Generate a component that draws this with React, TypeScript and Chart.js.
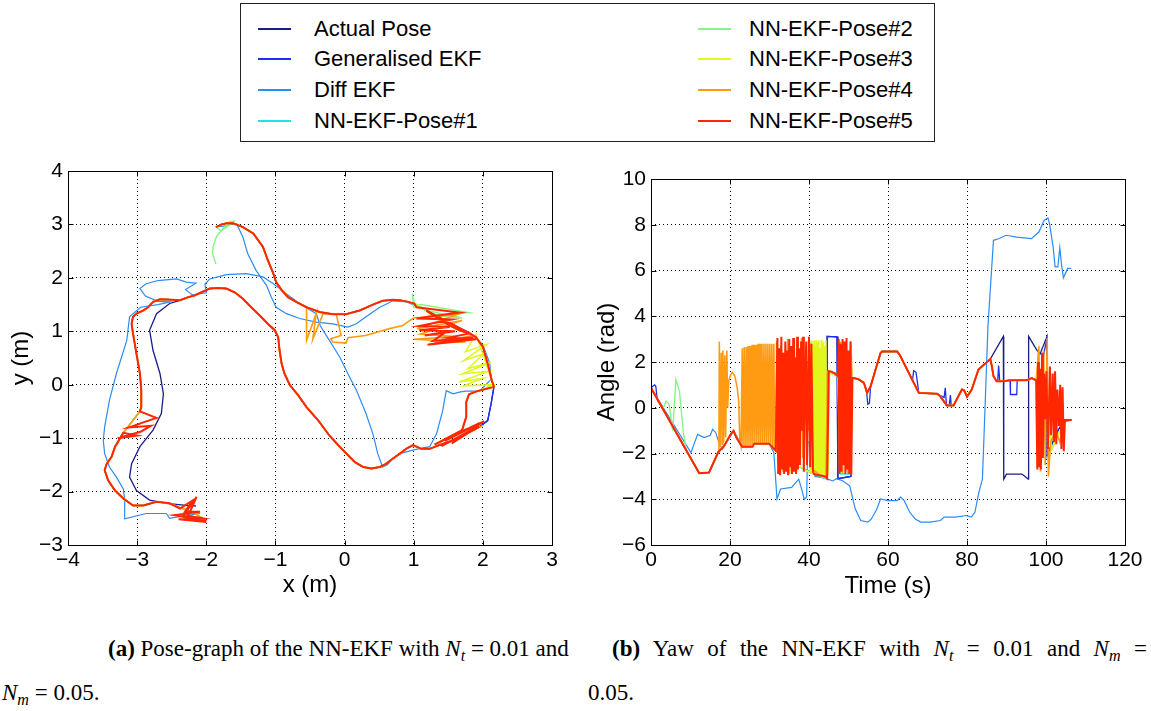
import React, { useEffect, useRef } from "react";
import { Chart, registerables } from "chart.js";

Chart.register(...registerables);

type Pt = [number, number];

// ---------------- series meta ----------------
const SERIES_NAMES = [
  "Actual Pose",
  "Generalised EKF",
  "Diff EKF",
  "NN-EKF-Pose#1",
  "NN-EKF-Pose#2",
  "NN-EKF-Pose#3",
  "NN-EKF-Pose#4",
  "NN-EKF-Pose#5",
];
const SERIES_COLORS = ["#1c1c8c", "#1f2ff0", "#2a8cf5", "#22e6dc", "#86f586", "#e2f51c", "#ff9b12", "#ff2600"];
const SERIES_WIDTHS = [1.3, 1.3, 1.2, 1.4, 1.4, 1.5, 1.6, 2.0];

// ---------------- pose graph (x, y in m) ----------------
const poseXTicks = [-4, -3, -2, -1, 0, 1, 2, 3];
const poseYTicks = [-3, -2, -1, 0, 1, 2, 3, 4];

const poseTopA: Pt[] = [[-1.86, 2.95], [-1.78, 3.0], [-1.71, 3.02], [-1.61, 3.02], [-1.47, 2.95], [-1.32, 2.83], [-1.18, 2.58], [-1.11, 2.33], [-1.03, 2.08], [-0.99, 1.92], [-0.91, 1.77], [-0.82, 1.64], [-0.7, 1.55], [-0.55, 1.45]];
const poseTopB: Pt[] = [[-0.36, 1.36], [-0.17, 1.32], [0.02, 1.32], [0.22, 1.39], [0.41, 1.5], [0.55, 1.57], [0.7, 1.59], [0.8, 1.58], [0.89, 1.56], [1.01, 1.52]];
const poseRight: Pt[] = [[1.18, 1.39], [1.28, 1.3], [1.52, 1.11], [1.66, 1.02], [1.81, 0.96], [1.9, 0.89], [2.0, 0.71], [2.07, 0.39], [2.13, 0.08], [2.16, -0.04]];
const poseRightLowOuter: Pt[] = [[2.12, -0.35], [2.07, -0.67]];
const poseRightLowInner: Pt[] = [[1.92, -0.12], [1.8, -0.18], [1.76, -0.32], [1.76, -0.6], [1.7, -0.85]];
const poseBottom: Pt[] = [[1.95, -0.79], [1.76, -0.92], [1.57, -1.04], [1.37, -1.13], [1.23, -1.2], [1.11, -1.2], [0.99, -1.13], [0.89, -1.2], [0.8, -1.29], [0.7, -1.38], [0.6, -1.48], [0.51, -1.54], [0.39, -1.57], [0.27, -1.54], [0.15, -1.45], [0.05, -1.32], [-0.07, -1.16], [-0.22, -0.95], [-0.38, -0.67], [-0.55, -0.42], [-0.67, -0.2], [-0.79, -0.01], [-0.87, 0.21], [-0.91, 0.39], [-0.94, 0.64], [-0.96, 0.89], [-1.01, 1.02], [-1.11, 1.14], [-1.23, 1.3], [-1.35, 1.45], [-1.47, 1.61], [-1.59, 1.73], [-1.71, 1.8], [-1.83, 1.81], [-1.95, 1.8], [-2.07, 1.73], [-2.17, 1.67], [-2.26, 1.64]];
const poseLeftEst: Pt[] = [[-2.38, 1.58], [-2.5, 1.59], [-2.67, 1.6], [-2.77, 1.55], [-2.84, 1.45], [-2.91, 1.39], [-3.01, 1.33], [-3.06, 1.27], [-3.08, 1.14], [-3.06, 0.96], [-3.01, 0.58], [-2.96, 0.21], [-2.94, -0.1], [-2.94, -0.42], [-2.96, -0.5]];
const poseLeftLowEst: Pt[] = [[-3.2, -0.9], [-3.25, -1.01], [-3.32, -1.16], [-3.37, -1.35], [-3.44, -1.48], [-3.47, -1.6], [-3.42, -1.79], [-3.32, -1.98], [-3.2, -2.13], [-3.06, -2.26], [-2.91, -2.26], [-2.72, -2.19], [-2.53, -2.22]];
const poseEndPlain: Pt[] = [[-2.38, -2.3], [-2.2, -2.38], [-2.0, -2.55]];
const poseEndZig: Pt[] = [[-2.38, -2.32], [-2.19, -2.16], [-2.31, -2.38], [-2.09, -2.38], [-2.46, -2.44], [-2.0, -2.54], [-2.34, -2.47], [-2.14, -2.1], [-2.26, -2.45], [-2.05, -2.5], [-2.4, -2.52], [-2.0, -2.57]];
const poseLeftZig: Pt[] = [[-2.72, -0.62], [-2.9, -0.7], [-3.12, -0.8], [-2.8, -0.77], [-2.95, -0.88], [-3.28, -1.0], [-3.0, -0.95], [-3.2, -0.9]];
const poseRightZig5: Pt[] = [[1.04, 1.45], [1.66, 1.35], [1.04, 1.24], [1.55, 1.22], [1.08, 1.1], [1.52, 1.08], [1.08, 1.02], [1.6, 1.0], [1.16, 0.92], [1.47, 0.99], [1.28, 0.82], [1.86, 0.89], [1.2, 0.75], [1.9, 0.85], [1.5, 0.88], [1.81, 0.96]];
const poseBottomZig5: Pt[] = [[1.3, -1.12], [1.95, -0.72], [1.45, -1.05], [2.02, -0.68], [1.55, -1.1], [1.85, -0.85], [1.4, -1.15], [1.9, -0.8], [1.6, -1.02]];
const poseOrangeShortcut: Pt[] = [[-0.55, 0.83], [-0.41, 1.33], [-0.46, 0.85], [-0.31, 1.33], [-0.12, 1.32], [-0.05, 0.92], [-0.2, 0.86], [-0.17, 0.8], [0.02, 0.78], [0.05, 0.88], [0.3, 0.92], [0.65, 1.05], [0.84, 1.11], [1.0, 1.25]];
const poseOrangeZig: Pt[] = [[1.65, 1.32], [1.05, 1.05], [1.7, 1.2], [1.1, 0.95], [1.6, 0.9], [1.0, 0.85], [1.75, 0.8], [1.3, 0.78], [1.85, 0.92]];
const poseYellowZig: Pt[] = [[1.9, 0.95], [1.75, 0.62], [2.05, 0.75], [1.72, 0.45], [2.02, 0.58], [1.78, 0.3], [2.12, 0.42], [1.7, 0.2], [2.08, 0.25], [1.66, 0.05], [2.0, 0.12], [1.72, -0.02], [2.15, 0.0]];
const poseGreenStart: Pt[] = [[-1.86, 2.26], [-1.91, 2.45], [-1.9, 2.6], [-1.85, 2.78], [-1.76, 2.92], [-1.66, 3.05], [-1.6, 3.06], [-1.78, 2.88]];
const poseGreenZig: Pt[] = [[0.98, 1.7], [1.0, 1.45], [1.1, 1.5], [1.8, 1.35], [1.2, 1.3], [1.7, 1.25]];
const poseLeftActual: Pt[] = [[-2.38, 1.58], [-2.53, 1.52], [-2.72, 1.33], [-2.82, 1.02], [-2.77, 0.64], [-2.67, 0.21], [-2.62, -0.17], [-2.65, -0.54], [-2.77, -0.85], [-2.96, -1.16], [-3.08, -1.48], [-3.11, -1.73], [-3.01, -1.98], [-2.82, -2.16], [-2.58, -2.22], [-2.29, -2.26], [-2.15, -2.27]];
const poseDiffEkf: Pt[] = [[-1.85, 2.96], [-1.75, 2.97], [-1.64, 3.0], [-1.56, 3.01], [-1.47, 2.76], [-1.4, 2.45], [-1.28, 2.14], [-1.13, 1.86], [-1.06, 1.64], [-0.99, 1.45], [-0.84, 1.33], [-0.65, 1.24], [-0.41, 1.17], [-0.17, 1.14], [0.05, 1.08], [0.17, 1.14], [0.31, 1.27], [0.51, 1.45], [0.7, 1.57], [0.9, 1.55], [1.2, 1.38], [1.5, 1.15], [1.8, 0.98], [2.0, 0.75], [2.1, 0.4], [2.12, 0.1], [1.95, -0.12], [1.75, -0.12], [1.66, -0.14], [1.57, -0.17], [1.47, -0.11], [1.42, -0.48], [1.33, -0.92], [1.23, -1.16], [1.0, -1.22], [0.8, -1.29], [0.7, -1.38], [0.62, -1.5], [0.55, -1.54], [0.48, -1.29], [0.41, -0.92], [0.31, -0.54], [0.17, -0.1], [0.07, 0.15], [-0.07, 0.52], [-0.22, 0.83], [-0.35, 1.1], [-0.41, 1.33], [-0.65, 1.52], [-0.84, 1.7], [-1.03, 1.89], [-1.18, 2.02], [-1.42, 2.08], [-1.71, 2.06], [-1.95, 1.98], [-2.02, 1.88], [-2.0, 1.72], [-2.2, 1.68], [-2.3, 1.78], [-2.15, 1.9], [-2.29, 1.92], [-2.43, 1.98], [-2.7, 1.95], [-2.87, 1.89], [-2.96, 1.8], [-2.88, 1.66], [-2.7, 1.56], [-2.52, 1.55], [-2.7, 1.5], [-2.95, 1.45], [-3.11, 1.27], [-3.15, 0.83], [-3.3, 0.21], [-3.4, -0.29], [-3.47, -0.79], [-3.49, -1.04], [-3.47, -1.29], [-3.4, -1.54], [-3.3, -1.73], [-3.2, -1.95], [-3.18, -2.16], [-3.18, -2.51], [-2.87, -2.41], [-2.58, -2.41], [-2.53, -2.5], [-2.3, -2.45], [-2.09, -2.41]];

// ---------------- yaw (t in s, angle in rad) ----------------
const yawXTicks = [0, 20, 40, 60, 80, 100, 120];
const yawYTicks = [-6, -4, -2, 0, 2, 4, 6, 8, 10];

const yawA: Pt[] = [[0, 0.87], [12.2, -2.86], [14.7, -2.83], [17.0, -1.95]];
const yawB: Pt[] = [[18.5, -1.67], [20.2, -1.15], [20.9, -1.01], [21.6, -1.3], [23.1, -1.71], [25.7, -1.71], [26.1, -1.57], [29.9, -1.57], [31.6, -1.88]];
const yawTrueMid: Pt[] = [[33.0, -2.15], [36.0, -2.45], [39.0, -2.7], [41.3, -2.9], [44.5, -3.1], [44.6, 3.12], [47.1, 3.1], [47.3, -3.1], [50.6, -3.0], [50.8, 1.3]];
const yawC: Pt[] = [[51.3, 1.3], [52.5, 1.25], [53.9, 1.09], [54.7, 0.65], [55.6, 0.94], [58.1, 2.39], [58.5, 2.46], [62.3, 2.46], [63.0, 2.3], [67.8, 0.65], [72.4, 0.61], [73.0, 0.55], [74.9, 0.1], [76.6, 0.1], [78.7, 0.8], [79.3, 0.75], [80.0, 0.48], [81.2, 0.8], [82.9, 1.67], [85.9, 2.13]];
const yawD: Pt[] = [[86.3, 1.81], [86.7, 1.38], [87.5, 1.16], [89.2, 1.16], [90.9, 1.2], [95.1, 1.2], [96.4, 1.3], [97.5, 1.2]];
const yawEndPlain: Pt[] = [[98.5, 1.2], [100.0, 0.5], [101.5, -1.8], [103.0, -1.2], [104.8, -0.54], [106.5, -0.54]];
const yawActualEnd: Pt[] = [[89.2, 3.12], [89.3, -3.12], [90.0, -2.9], [93.9, -2.9], [95.5, -3.12], [95.6, 3.12], [97.6, 2.54], [98.5, 2.35], [100.2, 3.09], [100.3, -2.1], [101.5, -1.6], [103.0, -1.0], [104.5, -0.6], [106.5, -0.54]];
const yawGenStart: Pt[] = [[0, 0.87], [0.9, 1.0], [1.2, 0.95], [1.6, 0.35], [2.2, 0.2], [12.2, -2.86], [14.7, -2.83], [17.0, -1.95]];
const yawGenMid: Pt[] = [[51.3, 1.3], [52.5, 1.25], [53.9, 1.09], [54.5, 0.8], [54.9, 0.15], [55.3, 0.2], [55.6, 0.94], [58.1, 2.39], [58.5, 2.46], [62.3, 2.46], [63.0, 2.3], [66.2, 1.2], [66.5, 1.62], [67.1, 1.55], [67.8, 0.65], [72.4, 0.61], [73.0, 0.55], [74.2, 0.45], [74.5, 0.87], [74.8, 0.1], [75.5, 0.1], [75.8, 0.55], [76.0, 0.1], [76.6, 0.1], [78.7, 0.8], [79.3, 0.75], [80.0, 0.48], [81.2, 0.8], [82.9, 1.67], [85.9, 2.13], [86.3, 1.81], [86.7, 1.38], [87.5, 1.16], [87.8, 1.2], [88.0, 1.85], [88.3, 1.15], [89.2, 1.16], [90.9, 1.2], [91.0, 0.58], [92.6, 0.58], [92.7, 1.2], [95.1, 1.2], [96.4, 1.3], [97.5, 1.2], [98.5, 1.1], [99.5, 2.4], [100.2, 3.0], [100.3, -2.0], [101.5, -1.6], [103.0, -1.0], [104.8, -0.54], [106.5, -0.54]];
const yawDiffEkf: Pt[] = [[0, 0.87], [10.1, -1.96], [11.8, -1.16], [12.5, -1.23], [13.5, -1.3], [15.0, -1.2], [15.6, -0.94], [16.4, -1.09], [17.3, -1.59], [18.1, -1.81], [21.0, -1.01], [23.1, -1.71], [25.7, -1.71], [26.1, -1.57], [29.9, -1.57], [31.1, -1.96], [31.9, -3.99], [32.8, -3.55], [35.6, -3.48], [37.4, -3.12], [38.2, -3.6], [38.8, -4.0], [39.4, -3.9], [39.7, -1.5], [40.3, -1.5], [40.8, -2.4], [41.5, -3.0], [43.0, -3.05], [44.8, -3.12], [46.0, -3.2], [47.0, -3.1], [48.5, -3.19], [50.3, -3.41], [51.7, -4.42], [53.1, -4.93], [54.9, -5.0], [55.8, -4.86], [57.2, -4.42], [58.1, -3.99], [60.0, -4.06], [62.3, -4.06], [63.2, -3.91], [64.1, -4.06], [65.5, -4.57], [66.9, -4.86], [68.3, -5.0], [70.6, -5.0], [73.3, -4.93], [74.2, -4.78], [77.0, -4.78], [79.8, -4.71], [81.1, -4.78], [82.0, -4.57], [83.0, -3.7], [83.9, -3.12], [84.4, -0.8], [85.3, 3.55], [86.7, 7.32], [88.0, 7.39], [89.9, 7.54], [92.6, 7.46], [96.3, 7.39], [98.2, 7.68], [99.5, 8.19], [100.5, 8.3], [100.9, 8.04], [101.8, 7.03], [102.3, 6.16], [103.0, 6.16], [103.5, 7.0], [103.9, 6.3], [104.4, 5.68], [105.5, 6.09], [106.4, 6.09]];
const yawCyanMid: Pt[] = [[33.0, -2.15], [36.0, -2.45], [39.0, -2.7], [41.3, -2.9], [44.5, -3.1], [45.0, 1.55], [47.3, 1.38], [48.0, -2.9], [50.6, -2.9], [50.8, 1.3]];
const yawGreenStart: Pt[] = [[0, 0.87], [3.0, -0.05], [3.8, 0.29], [4.6, 0.14], [5.5, -1.01], [6.3, 1.23], [7.2, 0.72], [8.2, -1.09], [9.0, -1.9], [12.2, -2.86], [14.7, -2.83], [17.0, -1.95]];
const yawGreenMid: Pt[] = [[33.0, -2.15], [36.0, -2.45], [39.0, -2.7], [41.3, -2.9], [44.5, -3.1], [45.0, 1.55], [47.3, 1.38], [47.8, -2.9], [48.3, 2.9], [48.6, -2.9], [49.3, 2.8], [49.6, -2.8], [50.8, 1.3]];
const yawYellowMid: Pt[] = [[33.0, -2.2], [38.0, -2.6], [39.8, -2.8], [40.2, -2.8], [40.4, 2.9], [40.55, -2.85], [40.7, 2.95], [40.85, -2.9], [41.0, 2.8], [41.15, -2.85], [41.3, 2.95], [41.45, -2.9], [41.6, 2.7], [41.75, -2.85], [41.9, 2.95], [42.05, -2.9], [42.2, 2.85], [42.35, -2.8], [42.5, 2.95], [42.65, -2.9], [42.8, 2.6], [42.95, -2.85], [43.1, 2.95], [43.25, -2.9], [43.4, 2.8], [43.55, -2.85], [43.7, 2.9], [43.85, -2.9], [44.0, 2.7], [44.15, -2.85], [44.3, 2.95], [44.45, -2.9], [44.8, -2.9], [45.2, 1.55], [47.3, 1.38], [50.8, 1.3]];
const yawOrangeSpikes: Pt[] = [[17.2, -1.9], [17.3, 2.9], [17.5, -1.7], [17.8, 2.4], [18.0, -1.6], [18.2, 2.5], [18.4, -1.5], [18.7, 2.3], [18.9, -1.3], [19.2, 2.5], [19.4, 0.0], [19.7, 1.2], [20.2, 1.45], [20.6, 1.55], [21.2, 1.4], [21.8, 0.9], [22.2, 0.3], [22.5, -1.5], [22.8, -1.7], [23.1, 2.6], [23.3, -1.7], [23.6, 2.65], [23.8, -1.7], [24.1, 2.65], [24.3, -1.7], [24.6, 2.7], [24.8, -1.7], [25.1, 2.7], [25.3, -1.7], [25.6, 2.75], [25.8, -1.6], [26.1, 2.75], [26.3, -1.57], [26.6, 2.75], [26.8, -1.57], [27.1, 2.8], [27.3, -1.57], [27.6, 2.8], [27.8, -1.57], [28.1, 2.8], [28.3, -1.57], [28.6, 2.8], [28.8, -1.57], [29.1, 2.8], [29.3, -1.57], [29.6, 2.8], [29.8, -1.57], [30.1, 2.8], [30.3, -1.6], [30.6, 2.8], [30.8, -1.7], [31.1, 2.8], [31.3, -1.85], [31.6, -1.88]];
const yawOrangeMid: Pt[] = [[31.8, 2.9], [32.1, -2.5], [32.9, 2.7], [33.4, -2.8], [34.6, 3.0], [35.1, -2.9], [36.3, 2.6], [36.9, -2.8], [38.1, 3.05], [38.4, -2.2], [39.2, 2.7], [39.9, -1.0], [40.5, 2.0], [41.0, -2.7], [42.5, -2.9], [44.3, -3.0], [44.7, 1.6], [46.6, 1.52], [47.3, 1.38], [47.9, 2.9], [48.4, -2.9], [49.2, 2.8], [49.8, -2.9], [50.6, 2.9], [50.9, 1.3]];
const yawOrangeEnd: Pt[] = [[98.2, 2.7], [98.6, -2.8], [99.4, 2.5], [99.8, -2.5], [100.3, 3.05], [100.6, -3.0], [101.2, -1.5], [102.5, -1.0], [103.5, -1.5], [104.8, -0.54], [106.5, -0.54]];
const yawRedMid: Pt[] = [[32.0, 3.05], [32.2, -2.9], [32.5, 2.6], [32.7, -2.95], [33.0, 3.1], [33.2, -2.7], [33.5, 2.4], [33.7, -2.9], [34.0, 2.9], [34.2, -2.8], [34.5, 2.5], [34.7, -2.95], [35.0, 3.0], [35.2, -2.6], [35.5, 2.7], [35.7, -2.9], [36.0, 3.05], [36.2, -2.8], [36.5, 2.2], [36.7, -2.9], [37.0, 3.1], [37.2, -2.7], [37.5, 2.6], [37.7, -2.5], [38.0, 2.9], [38.2, -1.0], [38.5, 3.1], [38.7, -2.8], [39.0, 0.5], [39.3, 2.9], [39.5, -2.5], [40.0, 3.1], [40.3, -2.6], [40.6, 2.8], [41.0, -2.8], [41.3, -2.9], [42.5, -2.95], [44.0, -3.0], [44.6, -3.1], [45.0, 1.6], [45.5, 1.59], [46.5, 1.5], [47.3, 1.38], [47.5, 3.0], [47.7, -2.9], [48.0, 2.8], [48.2, -2.8], [48.5, 3.0], [48.7, -2.5], [49.0, 2.9], [49.2, -2.9], [49.5, 3.05], [49.7, -2.7], [50.0, 2.5], [50.2, -2.9], [50.5, 2.9], [50.7, -2.95], [51.0, 1.3]];
const yawRedEnd: Pt[] = [[97.8, -2.7], [98.0, 2.0], [98.2, -2.6], [98.5, 1.7], [98.7, -2.7], [99.0, 2.4], [99.2, -2.2], [99.5, 1.5], [99.8, -0.5], [100.1, 1.6], [100.5, -1.8], [101.0, 1.8], [101.3, -1.2], [101.7, 1.5], [102.0, -1.5], [102.3, 1.6], [102.6, -1.6], [102.9, 0.8], [103.3, -0.8], [103.6, 1.0], [103.9, -1.8], [104.2, 0.9], [104.5, -1.9], [104.8, -0.54], [106.5, -0.54]];

// ---------------- assemble series ----------------
const poseSeries: Pt[][] = [
  [...poseTopA, ...poseTopB, ...poseRight, ...poseRightLowOuter, ...poseBottom, ...poseLeftActual],
  [...poseTopA, ...poseTopB, ...poseRight, ...poseRightLowOuter, ...poseBottom, ...poseLeftEst, ...poseLeftLowEst, ...poseEndPlain],
  poseDiffEkf,
  [...poseTopA, ...poseTopB, ...poseRight, ...poseRightLowInner, ...poseBottom, ...poseLeftEst, ...poseLeftLowEst, ...poseEndPlain],
  [...poseGreenStart, ...poseTopA, ...poseTopB, ...poseGreenZig, ...poseRight, ...poseRightLowInner, ...poseBottom, ...poseLeftEst, ...poseLeftLowEst, ...poseEndPlain],
  [...poseTopA, ...poseTopB, ...poseRight, ...poseYellowZig, ...poseRightLowInner, ...poseBottom, ...poseLeftEst, ...poseLeftLowEst, ...poseEndPlain],
  [...poseTopA, ...poseOrangeShortcut, ...poseOrangeZig, ...poseRight, ...poseRightLowInner, ...poseBottom, ...poseLeftEst, ...poseLeftLowEst, ...poseEndPlain],
  [...poseTopA, ...poseTopB, ...poseRightZig5, ...poseRight, ...poseRightLowInner, ...poseBottomZig5, ...poseBottom, ...poseLeftEst, ...poseLeftZig, ...poseLeftLowEst, ...poseEndZig],
];

const yawSeries: Pt[][] = [
  [...yawA, ...yawB, ...yawTrueMid, ...yawC, ...yawActualEnd],
  [...yawGenStart, ...yawB, ...yawTrueMid, ...yawGenMid],
  yawDiffEkf,
  [...yawA, ...yawB, ...yawCyanMid, ...yawC, ...yawD, ...yawEndPlain],
  [...yawGreenStart, ...yawB, ...yawGreenMid, ...yawC, ...yawD, ...yawEndPlain],
  [...yawA, ...yawB, ...yawYellowMid, ...yawC, ...yawD, ...yawEndPlain],
  [...yawA, ...yawOrangeSpikes, ...yawOrangeMid, ...yawC, ...yawD, ...yawOrangeEnd],
  [...yawA, ...yawB, ...yawRedMid, ...yawC, ...yawD, ...yawRedEnd],
];

// ---------------- chart helpers ----------------
const SANS = "'Liberation Sans', Arial, Helvetica, sans-serif";
const fmt = (v: number | string) => String(v).replace("-", "\u2212");

const framePlugin = {
  id: "matlabFrame",
  afterDraw(chart: any) {
    const { ctx, chartArea: a, scales } = chart;
    const L = Math.round(a.left) + 0.5;
    const R = Math.round(a.right) + 0.5;
    const T = Math.round(a.top) + 0.5;
    const B = Math.round(a.bottom) + 0.5;
    ctx.save();
    ctx.setLineDash([]);
    ctx.strokeStyle = "#000";
    ctx.lineWidth = 1;
    ctx.beginPath();
    const tl = 5;
    scales.x.ticks.forEach((t: any) => {
      const p = Math.round(scales.x.getPixelForValue(t.value)) + 0.5;
      ctx.moveTo(p, B); ctx.lineTo(p, B - tl);
      ctx.moveTo(p, T); ctx.lineTo(p, T + tl);
    });
    scales.y.ticks.forEach((t: any) => {
      const p = Math.round(scales.y.getPixelForValue(t.value)) + 0.5;
      ctx.moveTo(L, p); ctx.lineTo(L + tl, p);
      ctx.moveTo(R, p); ctx.lineTo(R - tl, p);
    });
    ctx.stroke();
    ctx.strokeRect(L, T, R - L, B - T);
    ctx.restore();
  },
};

interface AxisCfg {
  min: number; max: number; title: string; titlePad: number; tickVals: number[];
}

function buildChart(canvas: HTMLCanvasElement, series: Pt[][], x: AxisCfg, y: AxisCfg, pad: any, yWidth: number, xHeight: number) {
  return new Chart(canvas, {
    type: "scatter",
    data: {
      datasets: series.map((pts, i) => ({
        label: SERIES_NAMES[i],
        data: pts.map(([px, py]) => ({ x: px, y: py })),
        showLine: true,
        pointRadius: 0,
        pointHoverRadius: 0,
        borderColor: SERIES_COLORS[i],
        backgroundColor: SERIES_COLORS[i],
        borderWidth: SERIES_WIDTHS[i],
        fill: false,
        tension: 0,
        order: series.length - 1 - i,
      })),
    },
    options: {
      responsive: false,
      maintainAspectRatio: false,
      animation: false,
      events: [],
      layout: { padding: pad },
      plugins: { legend: { display: false }, tooltip: { enabled: false } },
      scales: {
        x: {
          type: "linear",
          min: x.min,
          max: x.max,
          afterBuildTicks: (s: any) => { s.ticks = x.tickVals.map((v) => ({ value: v })); },
          ticks: { padding: 3, color: "#000", font: { family: SANS, size: 21 }, maxRotation: 0, autoSkip: false, callback: (v: any) => fmt(v) },
          grid: { color: "#000", lineWidth: 1, drawTicks: false },
          border: { display: false, dash: [1, 3] },
          title: { display: true, text: x.title, color: "#000", font: { family: SANS, size: 24 }, padding: { top: 0, bottom: x.titlePad } },
          afterFit: (s: any) => { s.height = xHeight; },
        },
        y: {
          type: "linear",
          min: y.min,
          max: y.max,
          afterBuildTicks: (s: any) => { s.ticks = y.tickVals.map((v) => ({ value: v })); },
          ticks: { padding: 5, color: "#000", font: { family: SANS, size: 21 }, autoSkip: false, callback: (v: any) => fmt(v) },
          grid: { color: "#000", lineWidth: 1, drawTicks: false },
          border: { display: false, dash: [1, 3] },
          title: { display: true, text: y.title, color: "#000", font: { family: SANS, size: 24 }, padding: { top: y.titlePad, bottom: 0 } },
          afterFit: (s: any) => { s.width = yWidth; },
        },
      },
    },
    plugins: [framePlugin],
  } as any);
}

function Legend() {
  const rowY = [28, 58, 89, 120];
  const items = SERIES_NAMES.map((n, i) => {
    const col = i < 4 ? 0 : 1;
    const row = i % 4;
    const lineX = col === 0 ? 17 : 457;
    const textX = col === 0 ? 73 : 508;
    const cy = rowY[row] - 3;
    return (
      <React.Fragment key={n}>
        <div style={{ position: "absolute", left: lineX, top: cy - 1, width: 33, height: 2, background: SERIES_COLORS[i] }} />
        <div style={{ position: "absolute", left: textX, top: cy - 14, height: 28, lineHeight: "28px", fontFamily: SANS, fontSize: 22, color: "#000", whiteSpace: "nowrap" }}>{n}</div>
      </React.Fragment>
    );
  });
  return (
    <div style={{ position: "absolute", left: 240, top: 3, width: 693, height: 137, border: "1.5px solid #222", background: "#fff" }}>
      {items}
    </div>
  );
}

const capStyle: React.CSSProperties = {
  position: "absolute",
  fontFamily: "'Liberation Serif', 'Times New Roman', serif",
  fontSize: 23,
  lineHeight: "26px",
  color: "#000",
  whiteSpace: "nowrap",
};
const justify: React.CSSProperties = { textAlign: "justify", textAlignLast: "justify" as any, whiteSpace: "normal" };
const subStyle: React.CSSProperties = { fontSize: "0.7em", verticalAlign: "-0.3em", lineHeight: 0, fontStyle: "italic" };

export default function App() {
  const leftRef = useRef<HTMLCanvasElement | null>(null);
  const rightRef = useRef<HTMLCanvasElement | null>(null);

  useEffect(() => {
    const c1 = buildChart(
      leftRef.current!,
      poseSeries,
      { min: -4, max: 3, title: "x (m)", titlePad: 10, tickVals: poseXTicks },
      { min: -3, max: 4, title: "y (m)", titlePad: 7, tickVals: poseYTicks },
      { left: 0, right: 28, top: 21, bottom: 0 },
      68,
      65
    );
    const c2 = buildChart(
      rightRef.current!,
      yawSeries,
      { min: 0, max: 120, title: "Time (s)", titlePad: 9, tickVals: yawXTicks },
      { min: -6, max: 10, title: "Angle (rad)", titlePad: 13, tickVals: yawYTicks },
      { left: 0, right: 26, top: 29, bottom: 0 },
      71,
      65
    );
    return () => {
      c1.destroy();
      c2.destroy();
    };
  }, []);

  return (
    <div style={{ position: "absolute", left: 0, top: 0, width: 1151, height: 711, background: "#fff", overflow: "hidden" }}>
      <Legend />
      <canvas ref={leftRef} width={580} height={460} style={{ position: "absolute", left: 0, top: 150, width: 580, height: 460 }} />
      <canvas ref={rightRef} width={571} height={460} style={{ position: "absolute", left: 580, top: 150, width: 571, height: 460 }} />
      <div style={{ ...capStyle, left: 108, top: 636 }}>
        <b>(a)</b> Pose-graph of the NN-EKF with <i>N</i><sub style={subStyle}>t</sub> = 0.01 and
      </div>
      <div style={{ ...capStyle, left: 2, top: 680 }}>
        <i>N</i><sub style={subStyle}>m</sub> = 0.05.
      </div>
      <div style={{ ...capStyle, ...justify, left: 612, top: 636, width: 535 }}>
        <b>(b)</b> Yaw of the NN-EKF with <i>N</i><sub style={subStyle}>t</sub> = 0.01 and <i>N</i><sub style={subStyle}>m</sub> =
      </div>
      <div style={{ ...capStyle, left: 588, top: 680 }}>0.05.</div>
    </div>
  );
}
